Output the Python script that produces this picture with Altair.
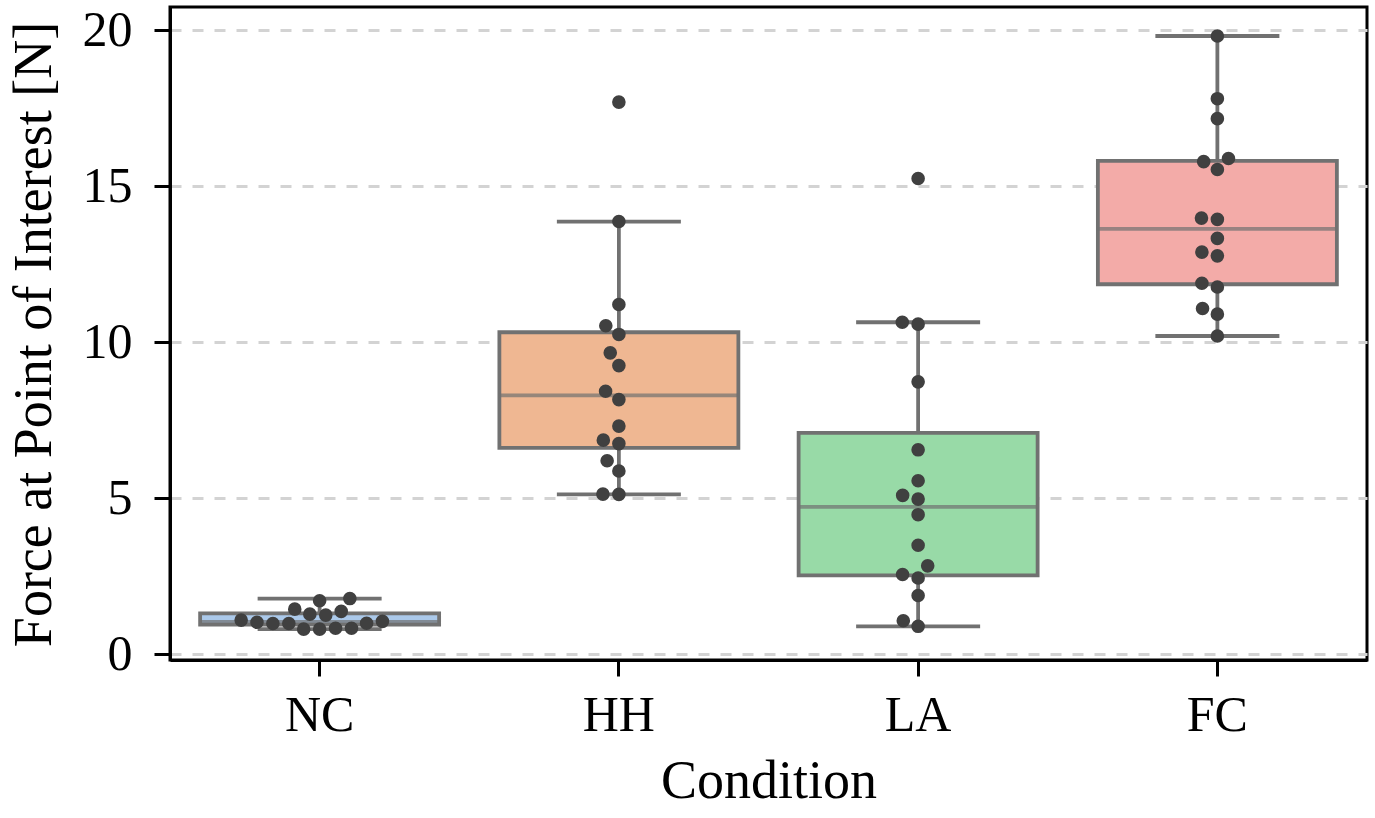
import math
import pandas as pd
import altair as alt

conditions = ["NC", "HH", "LA", "FC"]
nc_values = [1.09, 1.02, 0.98, 0.98, 1.44, 0.80, 1.28, 1.71, 0.80, 1.25, 0.83, 1.37, 1.78, 0.83, 0.99, 1.05]
hh_values = [17.70, 13.87, 11.21, 10.53, 10.25, 9.66, 9.25, 8.43, 8.16, 7.31, 6.86, 6.75, 6.20, 5.87, 5.13, 5.12]
la_values = [15.25, 10.64, 10.58, 8.73, 6.55, 5.56, 5.09, 4.97, 4.47, 3.49, 2.83, 2.55, 2.44, 1.88, 1.07, 0.89]
fc_values = [19.82, 17.81, 17.17, 15.79, 15.89, 15.54, 13.98, 13.94, 13.33, 12.89, 12.77, 11.89, 11.77, 11.08, 10.90, 10.20]
fill_colors = ["#abc9ea", "#efb792", "#98daa7", "#f3aba8"]
y_ticks = [0, 5, 10, 15, 20]

# layout constants
W, H = 1197, 653
Y_DOM = [-0.19, 20.75]
PPU = H / (Y_DOM[1] - Y_DOM[0])
R = 7.6
BAND = W / len(conditions)


def swarm_offsets(vals):
    """Beeswarm layout (seaborn-like) in pixel units."""
    order = sorted(range(len(vals)), key=lambda i: vals[i])
    placed = []
    out = [0.0] * len(vals)
    for i in order:
        y = vals[i] * PPU
        neigh = [(px, py) for (px, py) in reversed(placed) if abs(y - py) < 2 * R]
        cands = [0.0]
        left_first = True
        for px, py in neigh:
            dy = y - py
            dx = math.sqrt(max((2 * R) ** 2 - dy ** 2, 0)) * 1.05
            cands.extend([px - dx, px + dx] if left_first else [px + dx, px - dx])
            left_first = not left_first
        chosen = None
        for c in sorted(cands, key=abs):
            if all((c - px) ** 2 + (y - py) ** 2 >= (2 * R) ** 2 - 1e-6 for px, py in neigh):
                chosen = c
                break
        if chosen is None:
            chosen = 0.0
        placed.append((chosen, y))
        out[i] = chosen
    return out


rows = []
for cond, vals in zip(conditions, [nc_values, hh_values, la_values, fc_values]):
    for v, dx in zip(vals, swarm_offsets(vals)):
        rows.append({"Condition": cond, "Force": v, "dx": dx})
df = pd.DataFrame(rows)

GRAY = "#717171"
FONT = "Liberation Serif"
LW = 3.8

x_enc = alt.X(
    "Condition:N",
    sort=conditions,
    scale=alt.Scale(domain=conditions, paddingInner=0, paddingOuter=0),
    axis=alt.Axis(
        title="Condition",
        labelAngle=0,
        grid=False,
        labelBaseline="alphabetic",
        labelPadding=54,
        titleBaseline="alphabetic",
        titleY=137,
    ),
)
y_enc = alt.Y(
    "Force:Q",
    scale=alt.Scale(domain=Y_DOM, nice=False, zero=False),
    axis=alt.Axis(
        title="Force at Point of Interest [N]",
        values=y_ticks,
        grid=True,
        labelPadding=22,
        titleX=-120,
        titleY=327,
        titleAngle=-90,
        titleAlign="center",
        titleBaseline="alphabetic",
    ),
)

box = alt.Chart(df).mark_boxplot(
    extent=1.5,
    size=239,
    outliers=False,
    box={"stroke": GRAY, "strokeWidth": LW},
    median={"color": GRAY, "thickness": LW},
    rule={"color": GRAY, "strokeWidth": LW},
    ticks={"color": GRAY, "thickness": LW, "size": 124},
).encode(
    x=x_enc,
    y=y_enc,
    color=alt.Color("Condition:N", scale=alt.Scale(domain=conditions, range=fill_colors), legend=None),
)

pts = alt.Chart(df).mark_circle(size=185, color="#404040", opacity=1).encode(
    x=x_enc,
    y=y_enc,
    xOffset=alt.XOffset(
        "dx:Q",
        scale=alt.Scale(domain=[-200, 200], range=[BAND / 2 - 200, BAND / 2 + 200]),
    ),
)

chart = (
    alt.layer(box, pts)
    .properties(
        width=W,
        height=H,
        padding={"left": 170, "top": 7, "right": 8, "bottom": 158},
        autosize=alt.AutoSizeParams(type="none"),
        background="white",
    )
    .configure_view(stroke="black", strokeWidth=3)
    .configure_axis(
        domainColor="black",
        domainWidth=3,
        tickColor="black",
        tickWidth=3,
        tickSize=16,
        labelFont=FONT,
        labelFontSize=50,
        labelColor="black",
        titleFont=FONT,
        titleFontSize=54,
        titleColor="black",
        titleFontWeight="normal",
        gridColor="#d3d3d3",
        gridDash=[11, 11],
        gridWidth=3,
    )
)

chart.save("out.html", embed_options={"renderer": "svg", "actions": False})
